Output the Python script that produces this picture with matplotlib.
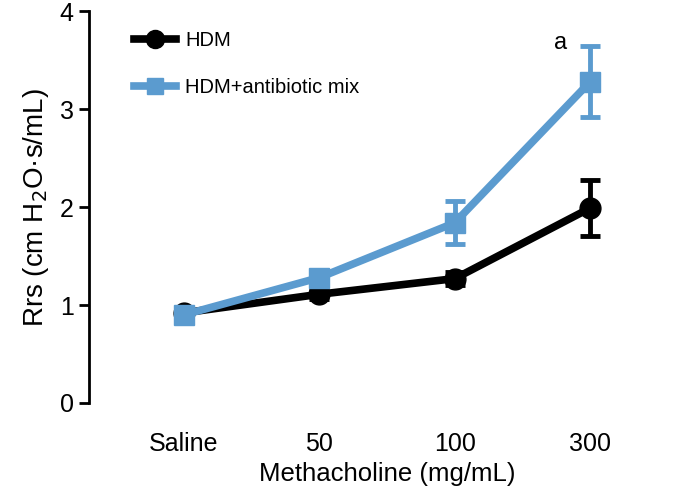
import matplotlib
matplotlib.use("Agg")
import matplotlib.pyplot as plt
from matplotlib.lines import Line2D
import numpy as np

categories = ["Saline", "50", "100", "300"]
hdm = [0.92, 1.11, 1.27, 1.99]
hdm_err = [0.03, 0.05, 0.07, 0.29]
abx = [0.90, 1.28, 1.84, 3.28]
abx_err = [0.03, 0.06, 0.22, 0.36]

plt.rcParams['font.family'] = ['Liberation Sans', 'DejaVu Sans']

fig = plt.figure(figsize=(6.85, 4.87), dpi=100)
ax = fig.add_axes([0.130, 0.1725, 0.87, 0.8045])
x = np.arange(len(categories))

black = "#000000"
blue = "#5b9bcf"

ax.errorbar(x, hdm, yerr=hdm_err, color=black, lw=5.5, marker='o', ms=15,
            capsize=7, capthick=3.5, elinewidth=3.5, zorder=3, clip_on=False)
ax.errorbar(x, abx, yerr=abx_err, color=blue, lw=5.5, marker='s', ms=14,
            capsize=7, capthick=3.5, elinewidth=3.5, zorder=4, clip_on=False)

ax.text(2.78, 3.68, "a", fontsize=17, ha='center', va='center')

ax.set_xlim(-0.70, 3.7)
ax.set_ylim(0, 4)
ax.set_yticks([0, 1, 2, 3, 4])
ax.set_xticks(x)
ax.set_xticklabels(categories)
for s in ['top', 'right', 'bottom']:
    ax.spines[s].set_visible(False)
ax.spines['left'].set_linewidth(2)
ax.tick_params(axis='y', length=7, width=2, labelsize=18, pad=4)
ax.tick_params(axis='x', length=0, labelsize=18, pad=21)
ax.set_xlabel("Methacholine (mg/mL)", fontsize=18.5, labelpad=4)
ax.set_ylabel("Rrs (cm H$_2$O·s/mL)", fontsize=20, labelpad=6)

handles = [Line2D([], [], color=black, lw=5.5, marker='o', ms=13),
           Line2D([], [], color=blue, lw=5.5, marker='s', ms=12)]
leg = ax.legend(handles, ["HDM", "HDM+antibiotic mix"], loc='upper left',
                bbox_to_anchor=(0.045, 0.995), frameon=False, fontsize=14.5,
                handlelength=2.1, labelspacing=1.4, handletextpad=0.45)

fig.savefig("out.png", dpi=100)
